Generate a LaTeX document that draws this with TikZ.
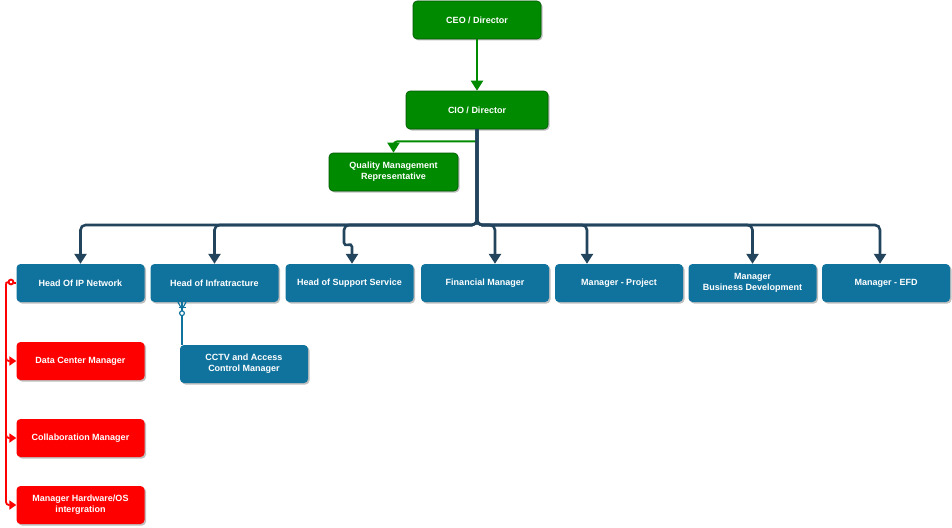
\documentclass[tikz,border=0pt]{standalone}
\usepackage{fontspec}
\setmainfont{Liberation Sans}
\usetikzlibrary{arrows.meta,shadows,calc}

\definecolor{gfill}{HTML}{008A00}
\definecolor{gstroke}{HTML}{005700}
\definecolor{bfill}{HTML}{10739E}
\definecolor{rfill}{HTML}{FF0000}
\definecolor{navy}{HTML}{23445D}

\tikzset{
  box/.style={rounded corners=4pt, minimum width=128pt, minimum height=38pt,
    font=\fontsize{9}{11}\selectfont\bfseries, text=white, align=center,
    inner sep=2pt,
    drop shadow={shadow xshift=1.5pt, shadow yshift=-1.5pt, fill=black, opacity=0.25}},
  gbox/.style={box, fill=gfill, draw=gstroke, line width=0.6pt},
  bbox/.style={box, fill=bfill},
  rbox/.style={box, fill=rfill},
  gline/.style={draw=gfill, line width=2pt, rounded corners=4pt,
    -{Triangle[length=10pt,width=12pt]}},
  nline/.style={draw=navy, line width=2.6pt, rounded corners=5pt,
    -{Triangle[length=10pt,width=12pt]}},
  rline/.style={draw=rfill, line width=1.8pt},
  rarrow/.style={rline, rounded corners=3pt, -{Triangle[length=7pt,width=9pt]}},
  bline/.style={draw=bfill, line width=1.8pt},
}

\begin{document}
\begin{tikzpicture}[x=1pt, y=-1pt]
\useasboundingbox (0,0) rectangle (952,527);

% top of the chart
\node[gbox] (ceo) at (477,20) {CEO / Director};
\node[gbox, minimum width=142pt] (cio) at (477,110) {CIO / Director};
\node[gbox, minimum width=129pt] (qmr) at (393.5,172) {Quality Management\\Representative};

% department heads
\node[bbox] (ipnet)   at (80.5,283)  {Head Of IP Network};
\node[bbox] (infra)   at (214.5,283) {Head of Infratracture};
\node[bbox] (support) at (349.5,283) {Head of Support Service};
\node[bbox] (fin)     at (485,283)   {Financial Manager};
\node[bbox] (proj)    at (619,283)   {Manager - Project};
\node[bbox] (busdev)  at (752.5,283) {Manager\\Business Development};
\node[bbox] (efd)     at (886,283)   {Manager - EFD};

% second level
\node[bbox] (cctv) at (244,364) {CCTV and Access\\Control Manager};
\node[rbox] (dc)     at (80.5,361) {Data Center Manager};
\node[rbox] (collab) at (80.5,438) {Collaboration Manager};
\node[rbox] (hw)     at (80.5,505) {Manager Hardware/OS\\intergration};

% green reporting lines
\draw[gline] (ceo.south) -- (cio.north);
\draw[gline] ($(cio.south)+(0,12)$) -| (qmr.north);

% navy bus from the CIO to the department heads
\coordinate (bus) at (477,225);
\coordinate (supjog) at ($(support.north)+(-5.5,-26)$);
\draw[nline] (cio.south) -- (bus) -| (ipnet.north);
\draw[nline] (cio.south) -- (bus) -| (infra.north);
\draw[nline] (cio.south) -- (bus) -| (supjog)
  .. controls ($(supjog)+(0,10)$) and ($(supjog)+(8,4)$) .. ($(supjog)+(8,14)$)
  -- ($(support.north)+(2.5,0)$);
\draw[nline] (cio.south) -- (bus) -| ($(fin.north)+(10,0)$);
\draw[nline] (cio.south) -- (bus) -| ($(proj.north)+(-32,0)$);
\draw[nline] (cio.south) -- (bus) -| (busdev.north);
\draw[nline] (cio.south) -- (bus) -| ($(efd.north)+(-6,0)$);

% infrastructure to CCTV, with a crow's foot and ring at the top
\coordinate (infraout) at ($(infra.south)+(-32.5,0)$);
\draw[bline] (infraout) -- (infraout |- cctv.north);
\draw[bline, line width=1.2pt] ($(infraout)+(-4,0)$) -- ($(infraout)+(0,7)$) -- ($(infraout)+(4,0)$);
\draw[bline, line width=1.2pt] ($(infraout)+(-3.5,5)$) -- ($(infraout)+(3.5,5)$);
\draw[bline, line width=1.2pt, fill=white] ($(infraout)+(0,11)$) circle (2.4);

% red lines from the IP network head
\coordinate (rtop) at (6,288);
\draw[rline] (ipnet.west) -- (13.5,283);
\draw[rline, fill=white] (11,282) circle (2.4);
\draw[rline] (8.6,282) .. controls (6,282) .. (rtop);
\draw[rarrow] (rtop) |- (dc.west);
\draw[rarrow] (rtop) |- (collab.west);
\draw[rarrow] (rtop) |- (hw.west);
\end{tikzpicture}
\end{document}
